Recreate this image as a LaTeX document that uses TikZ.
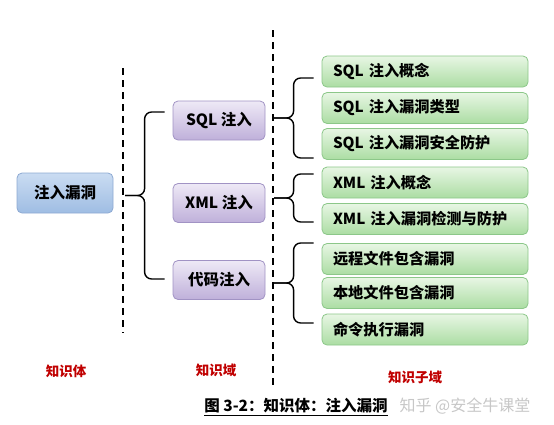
\documentclass[tikz,border=0pt]{standalone}
\usepackage{fontspec}
\setmainfont{Noto Sans CJK SC}
\usepackage{xcolor}
\usetikzlibrary{arrows.meta, positioning, calc}

\definecolor{bodytop}{HTML}{CADCF2}
\definecolor{bodybot}{HTML}{9FBDE3}
\definecolor{bodyline}{HTML}{8DA9D2}
\definecolor{domtop}{HTML}{EEE9F6}
\definecolor{dombot}{HTML}{BFB0DA}
\definecolor{domline}{HTML}{A193C4}
\definecolor{subtop}{HTML}{E8F6E4}
\definecolor{subbot}{HTML}{ABDDA3}
\definecolor{subline}{HTML}{8CC789}
\definecolor{labelred}{HTML}{C00000}

\newcommand{\kbrace}[3]{%
  \draw[bracket] (#2) -- ++(-20,0) |- (#1);
  \draw[bracket] (#3) -- ++(-20,0) |- (#1);}

\begin{document}
\begin{tikzpicture}[
    x=1pt, y=-1pt,
    every node/.style={font=\bfseries},
    box/.style={draw, rounded corners=5pt, line width=0.8pt, align=center, font=\bfseries\fontsize{15.5}{18}\selectfont},
    bodybox/.style={box, top color=bodytop, bottom color=bodybot, draw=bodyline, minimum width=96pt, minimum height=40pt},
    dombox/.style={box, top color=domtop, bottom color=dombot, draw=domline, minimum width=92pt, minimum height=39pt},
    subbox/.style={box, top color=subtop, bottom color=subbot, draw=subline, text width=184pt, inner xsep=11pt, align=left, minimum height=31pt, font=\bfseries\fontsize{15.2}{17}\selectfont},
    bracket/.style={line width=1.4pt, rounded corners=7pt},
    divider/.style={line width=1.8pt, dash pattern=on 7pt off 5pt},
    level/.style={text=labelred, font=\bfseries\fontsize{13.5}{16}\selectfont}
]
\useasboundingbox (0,0) rectangle (554,424);

% Dividers
\coordinate (d1top) at (123,68);
\coordinate (d1bot) at (123,333);
\coordinate (d2top) at (273,30);
\coordinate (d2bot) at (273,385);
\draw[divider] (d1top) -- (d1bot);
\draw[divider] (d2top) -- (d2bot);

% Knowledge body
\node[bodybox] (body) at (65,193) {注入漏洞};

% Knowledge domains
\node[dombox] (sql) at (219,120.5) {SQL 注入};
\node[dombox] (xml) at (219,203) {XML 注入};
\node[dombox] (code) at (219,280) {代码注入};

% Knowledge subdomains
\node[subbox] (sqla) at (425,71.5) {SQL 注入概念};
\node[subbox] (sqlb) at (425,108) {SQL 注入漏洞类型};
\node[subbox] (sqlc) at (425,144) {SQL 注入漏洞安全防护};
\node[subbox] (xmla) at (425,182.5) {XML 注入概念};
\node[subbox] (xmlb) at (425,219) {XML 注入漏洞检测与防护};
\node[subbox] (codea) at (425,259) {远程文件包含漏洞};
\node[subbox] (codeb) at (425,293) {本地文件包含漏洞};
\node[subbox] (codec) at (425,329.5) {命令执行漏洞};

% Braces
\coordinate (tip1) at (125,195.5);
\coordinate (tip2) at (274,118);
\coordinate (tip3) at (274,198);
\coordinate (tip4) at (274,283);
\kbrace{tip1}{$(sql.west)+(-8,-8.5)$}{$(code.west)+(-8,-1)$}
\kbrace{tip2}{$(sqla.west)+(-8,6.5)$}{$(sqlc.west)+(-8,14)$}
\kbrace{tip3}{$(xmla.west)+(-8,-8.5)$}{$(xmlb.west)+(-8,3)$}
\kbrace{tip4}{$(codea.west)+(-8,-16)$}{$(codec.west)+(-8,-6.5)$}

% Level labels
\node[level] (lbody) at (66,371) {知识体};
\node[level] (ldom) at (216,370) {知识域};
\node[level] (lsub) at (415,377) {知识子域};

% Caption
\node[font=\bfseries\fontsize{15.5}{18}\selectfont, inner sep=1pt] (caption) at (296,407) {\underline{图 3-2：知识体：注入漏洞}};
\node[font=\fontsize{16}{19}\selectfont, text=black!22, anchor=west] (mark) at (396,406) {知乎 @安全牛课堂};

\end{tikzpicture}
\end{document}
